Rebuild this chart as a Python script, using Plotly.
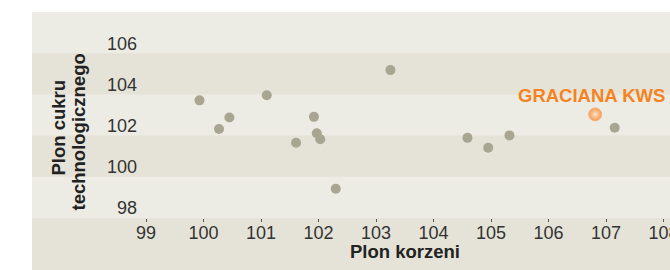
import plotly.graph_objects as go

# ---- data ----
x_vals = [99.93, 100.27, 100.45, 101.10, 101.61, 101.92, 101.97, 102.03,
          102.30, 103.25, 104.59, 104.95, 105.32, 107.15]
y_vals = [103.71, 102.32, 102.88, 103.96, 101.65, 102.91, 102.11, 101.82,
          99.42, 105.18, 101.89, 101.41, 102.01, 102.38]
highlight_name = "GRACIANA KWS"
highlight_x = [106.81]
highlight_y = [103.03]
x_ticks = [99, 100, 101, 102, 103, 104, 105, 106, 107, 108]
y_ticks = [98, 100, 102, 104, 106]
x_title = "Plon korzeni"
y_title_lines = ["Plon cukru", "technologicznego"]

# ---- styles ----
W, H = 670, 270
ML, MR, MT, MB = 146, 0, 12, 52
PX_PER_X = 57.51
X_RANGE = [99, 99 + (W - ML - MR) / PX_PER_X]
Y_RANGE = [98, 108]
FONT = "Liberation Sans, Arial, Helvetica, sans-serif"
DARK_BAND = "#E5E3D7"
LIGHT_BAND = "#EDECE4"
GRAY_DOT = "#A8A690"
ORANGE = "#F5831F"
TEXT = "#333333"

plot_w = W - ML - MR
plot_h = H - MT - MB
bg_left = (32 - ML) / plot_w


def ypaper(v):
    return (v - Y_RANGE[0]) / (Y_RANGE[1] - Y_RANGE[0])


shapes = [dict(type="rect", xref="paper", yref="paper", x0=bg_left, x1=1,
               y0=-MB / plot_h - 0.05, y1=1, fillcolor=DARK_BAND,
               line=dict(width=0), layer="below")]
for lo in y_ticks[::2]:
    shapes.append(dict(type="rect", xref="paper", yref="paper", x0=bg_left, x1=1,
                       y0=ypaper(lo), y1=ypaper(lo + 2), fillcolor=LIGHT_BAND,
                       line=dict(width=0), layer="below"))

fig = go.Figure()
fig.add_trace(go.Scatter(
    x=x_vals, y=y_vals, mode="markers",
    marker=dict(size=10, color=GRAY_DOT, line=dict(width=0)),
    hoverinfo="x+y", showlegend=False, cliponaxis=False))
fig.add_trace(go.Scatter(
    x=highlight_x, y=highlight_y, mode="markers", name=highlight_name,
    marker=dict(size=13, color="#F49A50",
                gradient=dict(type="radial", color="#FFE2C6"),
                line=dict(width=1, color="#F8B47C")),
    hoverinfo="name+x+y", showlegend=False, cliponaxis=False))

annotations = [
    dict(x=highlight_x[0], y=highlight_y[0], xref="x", yref="y",
         text="<b>%s</b>" % highlight_name, showarrow=False,
         xanchor="center", yanchor="middle", xshift=-4, yshift=19,
         font=dict(family=FONT, size=18.5, color=ORANGE)),
    dict(x=(58 - ML) / plot_w, y=(MT + plot_h - 127.5) / plot_h,
         xref="paper", yref="paper", text="<b>%s</b>" % y_title_lines[0],
         textangle=-90, showarrow=False, xanchor="center", yanchor="middle",
         font=dict(family=FONT, size=18.5, color="#222222")),
    dict(x=(77.5 - ML) / plot_w, y=(MT + plot_h - 132) / plot_h,
         xref="paper", yref="paper", text="<b>%s</b>" % y_title_lines[1],
         textangle=-90, showarrow=False, xanchor="center", yanchor="middle",
         font=dict(family=FONT, size=18.5, color="#222222")),
    dict(x=(405 - ML) / plot_w, y=(MT + plot_h - 252) / plot_h,
         xref="paper", yref="paper", text="<b>%s</b>" % x_title,
         showarrow=False, xanchor="center", yanchor="middle",
         font=dict(family=FONT, size=18.5, color="#222222")),
]

fig.update_layout(
    width=W, height=H, autosize=False,
    margin=dict(l=ML, r=MR, t=MT, b=MB, pad=0, autoexpand=False),
    paper_bgcolor="white", plot_bgcolor="rgba(0,0,0,0)",
    font=dict(family=FONT, size=18, color=TEXT),
    shapes=shapes, annotations=annotations, showlegend=False,
    xaxis=dict(range=X_RANGE, tickvals=x_ticks, showgrid=False, zeroline=False,
               showline=False, ticks="outside", ticklen=3, tickwidth=1,
               tickcolor="#555555", ticklabeloverflow="allow",
               ticklabelstandoff=-5, automargin=False,
               tickfont=dict(family=FONT, size=18, color=TEXT), fixedrange=True),
    yaxis=dict(range=Y_RANGE, tickvals=y_ticks, showgrid=False, zeroline=False,
               showline=False, ticks="", ticklabelshift=-10, ticklabelstandoff=8,
               automargin=False,
               tickfont=dict(family=FONT, size=18, color=TEXT), fixedrange=True),
)

fig.write_html(
    "out.html",
    config={"displayModeBar": False},
    post_script="document.body.style.margin='0';document.body.style.overflow='hidden';",
)
